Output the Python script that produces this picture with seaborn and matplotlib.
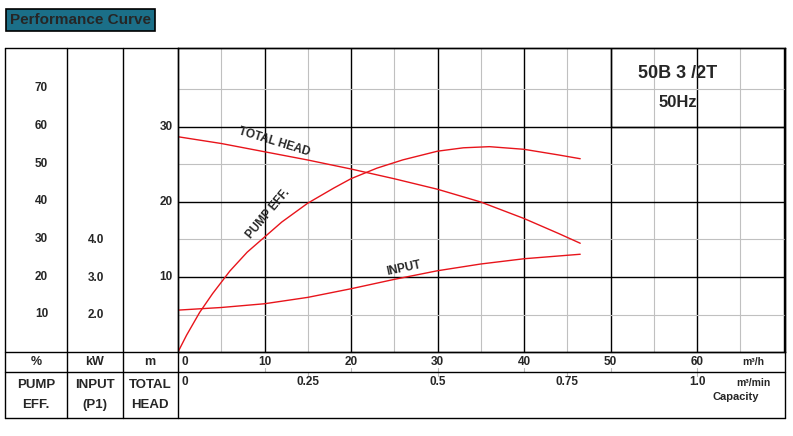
import matplotlib
matplotlib.use("Agg")
import matplotlib.pyplot as plt
import matplotlib.transforms as mtrans
import numpy as np
import seaborn as sns

sns.set_theme(style="white")
plt.rcParams['font.family'] = ['Liberation Sans', 'DejaVu Sans']

# data
flow = [0, 5, 10, 15, 20, 25, 30, 35, 40, 44, 46.5]
head = [28.7, 27.8, 26.7, 25.6, 24.4, 23.1, 21.7, 20.0, 17.8, 15.8, 14.5]
flow_eff = [0, 1, 2.5, 4, 6, 8, 10, 12, 15, 18, 20, 23, 26, 30, 33, 36, 40, 44, 46.5]
eff = [0, 4.5, 10.5, 15.5, 21.5, 26.5, 30.5, 34.5, 39.5, 43.5, 46, 48.8, 51, 53.3, 54.2, 54.5, 53.8, 52.3, 51.3]
flow_kw = [0, 5, 10, 15, 20, 25, 30, 35, 40, 46.5]
kw = [2.13, 2.2, 2.3, 2.47, 2.7, 2.95, 3.18, 3.36, 3.5, 3.62]

pct_ticks = [10, 20, 30, 40, 50, 60, 70]
kw_ticks = [2.0, 3.0, 4.0]
head_ticks = [10, 20, 30]
flow_ticks = [0, 10, 20, 30, 40, 50, 60]
min_ticks = [0, 0.25, 0.5, 0.75, 1.0]
min_labels = ['0', '0.25', '0.5', '0.75', '1.0']

W, H = 793, 436
fig = plt.figure(figsize=(W / 100, H / 100), dpi=100)
fx = lambda px: px / W
fy = lambda py: 1 - py / H

ax = fig.add_axes([fx(178), fy(352), fx(785) - fx(178), fy(48) - fy(352)])
ax.set_xlim(0, (785 - 178) / 8.65)
ax.set_ylim(0, (352 - 48) / 7.5)
for v in np.arange(5, 71, 5):
    ax.axvline(v, color='black' if v % 10 == 0 else '#c0c0c0', lw=1 if v % 10 == 0 else 0.8, zorder=0)
for v in [5, 10, 15, 20, 25, 30, 35]:
    ax.axhline(v, color='black' if v % 10 == 0 else '#c0c0c0', lw=1 if v % 10 == 0 else 0.8, zorder=0)
ax.set_xticks([])
ax.set_yticks([])
for s in ax.spines.values():
    s.set_color('black')
    s.set_linewidth(1)

ax_e = ax.twinx()
ax_e.set_ylim(0, (353 - 48) / 3.78)
ax_e.axis('off')
ax_k = ax.twinx()
ax_k.set_ylim((390 - 352) / 37.5, (390 - 48) / 37.5)
ax_k.axis('off')

red = '#e8141b'
sns.lineplot(x=flow, y=head, ax=ax, color=red, lw=1)
sns.lineplot(x=flow_eff, y=eff, ax=ax_e, color=red, lw=1)
sns.lineplot(x=flow_kw, y=kw, ax=ax_k, color=red, lw=1)

ax.text(6.8, 25.8, 'TOTAL HEAD', rotation=-17, fontsize=8.5, ha='left', va='bottom', weight='bold')
ax.text(7.7, 14.8, 'PUMP EFF.', rotation=50, fontsize=8.5, ha='left', va='bottom', weight='bold')
ax_k.text(24, 3.0, 'INPUT', rotation=12, fontsize=8.5, ha='left', va='bottom', weight='bold')

# info box top right
ax.add_patch(plt.Rectangle((50, 30), 25, 15, fill=False, ec='black', lw=1, clip_on=True))
fig.text(fx(678), fy(73), '50B 3 /2T', fontsize=13, ha='center', va='center', weight='bold')
fig.text(fx(678), fy(102), '50Hz', fontsize=12, ha='center', va='center', weight='bold')

# left table columns
def lblend(a):
    return mtrans.blended_transform_factory(fig.transFigure, a.transData)

for v in pct_ticks:
    ax_e.text(fx(48), v, str(v), transform=lblend(ax_e), fontsize=8.5, ha='right', va='center', weight='bold')
for v in kw_ticks:
    ax_k.text(fx(96), v, f'{v:.1f}', transform=lblend(ax_k), fontsize=8.5, ha='center', va='center', weight='bold')
for v in head_ticks:
    ax.text(fx(166), v, str(v), transform=lblend(ax), fontsize=8.5, ha='center', va='center', weight='bold')

# frame and table lines
L = lambda x0, y0, x1, y1: fig.add_artist(plt.Line2D([fx(x0), fx(x1)], [fy(y0), fy(y1)], color='black', lw=1))
L(5, 48, 785, 48); L(5, 418, 785, 418); L(5, 48, 5, 418); L(785, 48, 785, 418)
L(5, 352, 785, 352); L(5, 372, 785, 372)
for x in [67, 123, 178]:
    L(x, 48, x, 418)

fig.text(fx(36), fy(362), '%', fontsize=9, ha='center', va='center', weight='bold')
fig.text(fx(95), fy(362), 'kW', fontsize=9, ha='center', va='center', weight='bold')
fig.text(fx(150), fy(362), 'm', fontsize=9, ha='center', va='center', weight='bold')
for x, t in [(36, 'PUMP\nEFF.'), (95, 'INPUT\n(P1)'), (150, 'TOTAL\nHEAD')]:
    fig.text(fx(x), fy(395), t, fontsize=9.5, ha='center', va='center', linespacing=1.9, weight='bold')

ax_b = fig.add_axes([fx(178), fy(418), fx(785) - fx(178), fy(352) - fy(418)])
ax_b.set_xlim(ax.get_xlim())
ax_b.set_ylim(0, 66)
ax_b.axis('off')
for v in flow_ticks:
    ax_b.text(v + 0.8 if v == 0 else v, 56, str(v), fontsize=8.5, ha='center', va='center', weight='bold')
    ax_b.plot([v, v], [46, 50], color='#bbbbbb', lw=0.8)
for v, t in zip(min_ticks, min_labels):
    ax_b.text(v * 60 + (0.8 if v == 0 else 0), 36, t, fontsize=8.5, ha='center', va='center', weight='bold')
    ax_b.plot([v * 60, v * 60], [42, 46], color='#bbbbbb', lw=0.8)
ax_b.text(66.5, 56, 'm³/h', fontsize=7.5, ha='center', va='center', weight='bold')
ax_b.text(66.5, 35, 'm³/min', fontsize=7.5, ha='center', va='center', weight='bold')
ax_b.text(64.5, 21, 'Capacity', fontsize=8, ha='center', va='center', weight='bold')

# title box
fig.text(fx(10), fy(20), 'Performance Curve', fontsize=11, ha='left', va='center', weight='bold',
         bbox=dict(boxstyle='square,pad=0.25', fc='#1b6f88', ec='black', lw=1.2))

fig.savefig('out.png', dpi=100)
